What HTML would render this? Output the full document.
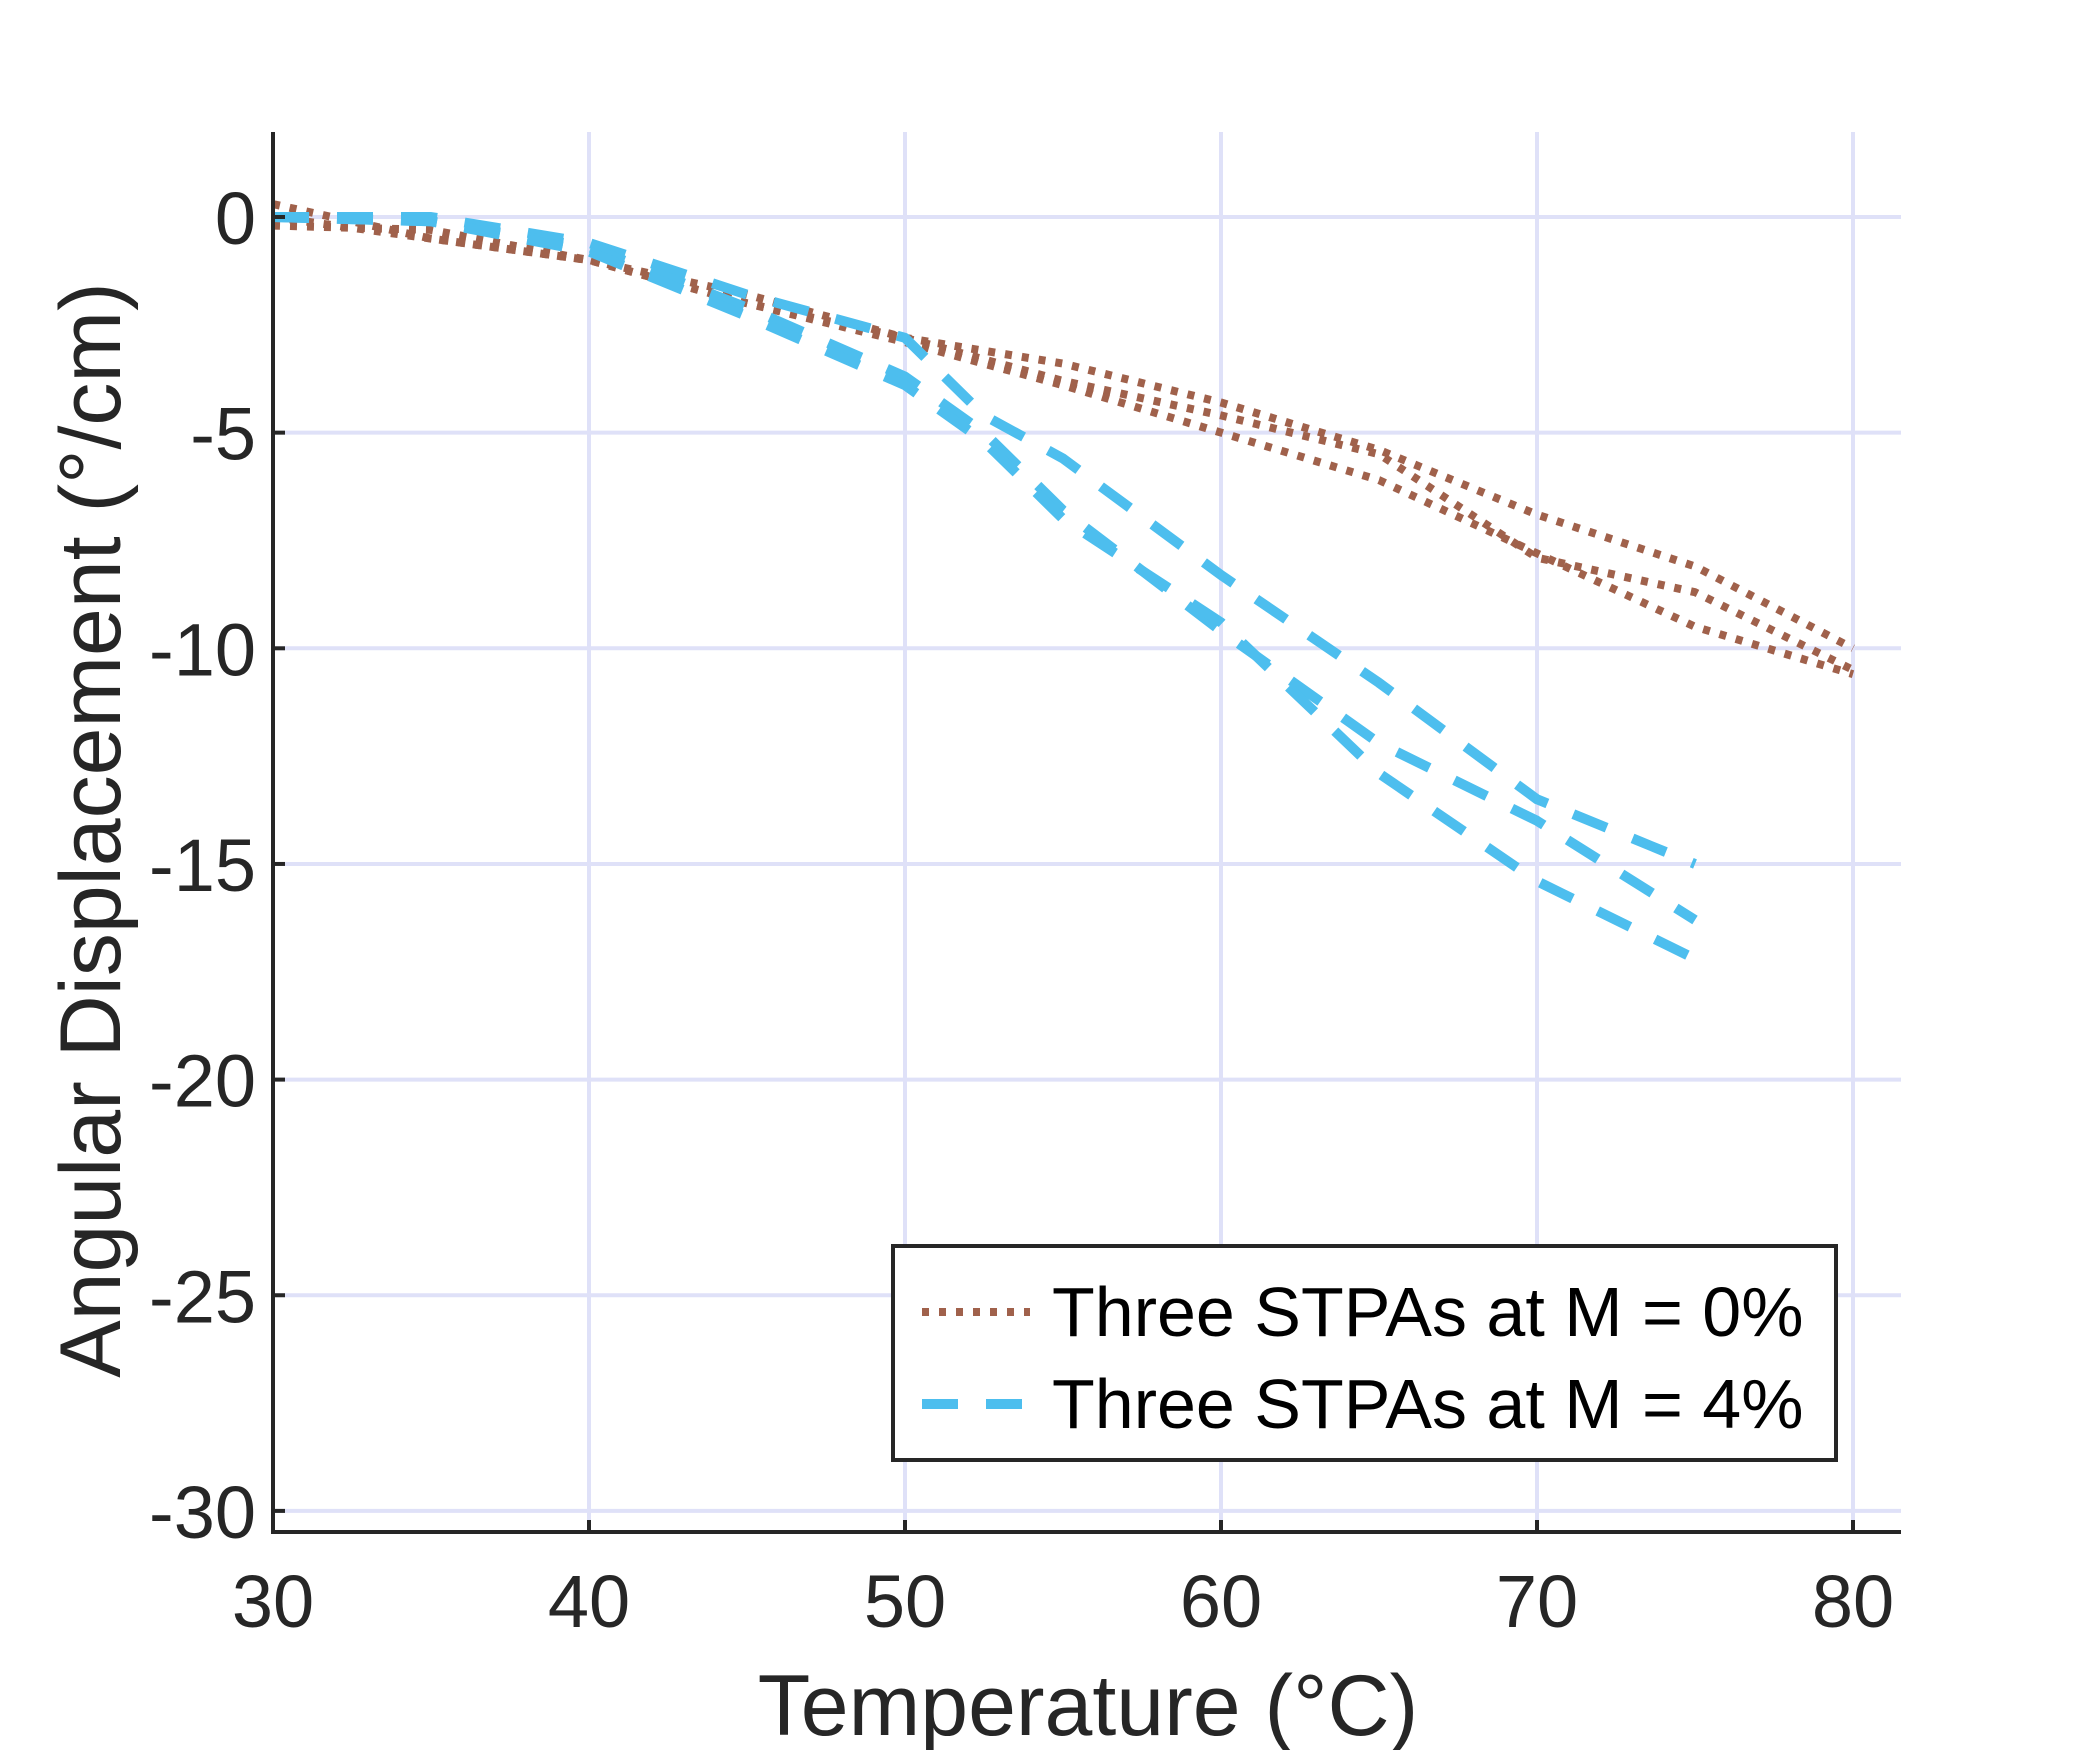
<!DOCTYPE html>
<html><head><meta charset="utf-8"><style>
html,body{margin:0;padding:0;background:#fff;}
svg{display:block;font-family:"Liberation Sans",Arial,sans-serif;}
</style></head><body>
<svg id="chart" width="2100" height="1750" viewBox="0 0 2100 1750" xmlns="http://www.w3.org/2000/svg">
<rect x="0" y="0" width="2100" height="1750" fill="#fff"/>
<g id="grid"></g>
<g id="series"></g>
<g id="axes"></g>
<text x="1088" y="1735" font-size="86" text-anchor="middle" fill="#262626">Temperature (°C)</text>
<text x="0" y="0" font-size="86" text-anchor="middle" fill="#262626" transform="translate(120,830) rotate(-90)">Angular Displacement (°/cm)</text>
<g>
<rect x="893" y="1246" width="943" height="214" fill="#fff" stroke="#262626" stroke-width="4"/>
<g>
<line x1="922" y1="1312" x2="1030" y2="1312" stroke="#A0614B" stroke-width="8" stroke-dasharray="7 10"/>
<text x="1052" y="1336" font-size="70" fill="#000">Three STPAs at M = 0%</text>
</g>
<g>
<line x1="922" y1="1404" x2="1030" y2="1404" stroke="#4DBEEE" stroke-width="10" stroke-dasharray="36 28"/>
<text x="1052" y="1428" font-size="70" fill="#000">Three STPAs at M = 4%</text>
</g>
</g>
</svg>
<script>
var xTicks = [30, 40, 50, 60, 70, 80];
var yTicks = [0, -5, -10, -15, -20, -25, -30];
var brownX = [30, 35, 40, 45, 50, 55, 60, 65, 70, 75, 80];
var brownA = [0.3, -0.5, -1.0, -1.8, -2.8, -3.4, -4.3, -5.4, -6.9, -8.1, -10.0];
var brownB = [-0.2, -0.3, -1.0, -2.0, -2.8, -3.8, -4.6, -5.5, -7.9, -8.7, -10.5];
var brownC = [0.0, -0.5, -1.0, -2.0, -2.9, -3.9, -5.0, -6.1, -7.8, -9.5, -10.6];
var blueX = [30, 35, 40, 45, 50, 52.5, 55, 60, 65, 70, 75];
var blueA = [0.0, 0.0, -0.6, -1.8, -2.8, -4.6, -5.6, -8.3, -10.8, -13.5, -15.0];
var blueB = [0.0, -0.1, -0.7, -2.1, -3.7, -5.0, -6.8, -9.6, -12.2, -14.0, -16.3];
var blueC = [0.0, -0.1, -0.8, -2.3, -3.9, -5.2, -7.0, -9.4, -12.9, -15.4, -17.2];

function sx(v){ return 273 + (v - 30) * 31.6; }
function sy(v){ return 217 - v * 43.13; }
var NS = "http://www.w3.org/2000/svg";
function mk(tag, attrs, parent){
  var e = document.createElementNS(NS, tag);
  for (var k in attrs) e.setAttribute(k, attrs[k]);
  parent.appendChild(e);
  return e;
}
var grid = document.getElementById('grid');
var axes = document.getElementById('axes');
var series = document.getElementById('series');
var plotTop = 132, plotBottom = 1532, plotLeft = 273, plotRight = 1901;

xTicks.forEach(function(t){
  var g = mk('line', {x1: sx(t), x2: sx(t), y1: plotTop, y2: plotBottom, stroke: '#dfe1f8', 'stroke-width': 4}, grid);
  
  
  var tk = mk('line', {x1: sx(t), x2: sx(t), y1: plotBottom, y2: plotBottom - 12, stroke: '#262626', 'stroke-width': 4}, axes);
  
  
  var lb = mk('text', {x: sx(t), y: 1627, 'font-size': 74, 'text-anchor': 'middle', fill: '#262626'}, axes);
  lb.textContent = t;
  
  
});
yTicks.forEach(function(t){
  var g = mk('line', {x1: plotLeft, x2: plotRight, y1: sy(t), y2: sy(t), stroke: '#dfe1f8', 'stroke-width': 4}, grid);
  
  
  var tk = mk('line', {x1: plotLeft, x2: plotLeft + 12, y1: sy(t), y2: sy(t), stroke: '#262626', 'stroke-width': 4}, axes);
  
  
  var lb = mk('text', {x: 256, y: sy(t) + 27, 'font-size': 74, 'text-anchor': 'end', fill: '#262626'}, axes);
  lb.textContent = t;
  
  
});
var xa = mk('line', {x1: plotLeft - 2, x2: plotRight, y1: plotBottom, y2: plotBottom, stroke: '#262626', 'stroke-width': 4}, axes);


var ya = mk('line', {x1: plotLeft, x2: plotLeft, y1: plotTop, y2: plotBottom + 2, stroke: '#262626', 'stroke-width': 4}, axes);



function drawLine(xs, ys, color, w, dash, name){
  var d = xs.map(function(x, i){ return (i ? 'L' : 'M') + sx(x).toFixed(1) + ',' + sy(ys[i]).toFixed(1); }).join(' ');
  var p = mk('path', {d: d, fill: 'none', stroke: color, 'stroke-width': w, 'stroke-dasharray': dash, 'stroke-linejoin': 'round'}, series);
  
  
}
drawLine(brownX, brownA, '#A0614B', 8, '7 10', 'series-m0-stpa-1');
drawLine(brownX, brownB, '#A0614B', 8, '7 10', 'series-m0-stpa-2');
drawLine(brownX, brownC, '#A0614B', 8, '7 10', 'series-m0-stpa-3');
drawLine(blueX, blueA, '#4DBEEE', 10, '36 28', 'series-m4-stpa-1');
drawLine(blueX, blueB, '#4DBEEE', 10, '36 28', 'series-m4-stpa-2');
drawLine(blueX, blueC, '#4DBEEE', 10, '36 28', 'series-m4-stpa-3');
</script>
</body></html>
